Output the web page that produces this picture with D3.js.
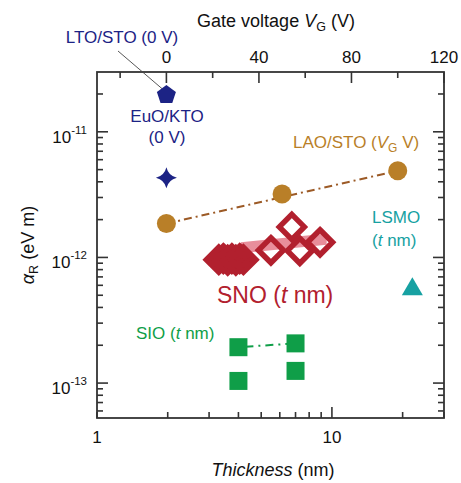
<!DOCTYPE html>
<html>
<head>
<meta charset="utf-8">
<script src="https://cdn.jsdelivr.net/npm/d3@7"></script>
<style>
  body { margin: 0; background: #fff; }
  text { font-family: "Liberation Sans", Arial, sans-serif; }
</style>
</head>
<body>
<div id="chart"></div>
<script>
// ---- data ----
// points plotted against gate voltage (top axis)
const ltoV = [0]
const ltoA = [2.0e-11]
const euoV = [0]
const euoA = [4.3e-12]
const laoV = [0, 50, 100]
const laoA = [1.86e-12, 3.2e-12, 4.9e-12]

// points plotted against thickness (bottom axis)
const snoT = [3.3, 3.45, 3.6, 3.75, 3.9, 4.05, 4.2, 5.5, 6.75, 7.3, 8.9]
const snoA = [0.96e-12, 0.98e-12, 0.95e-12, 0.98e-12, 0.95e-12, 0.98e-12, 0.96e-12, 1.14e-12, 1.75e-12, 1.13e-12, 1.32e-12]
const snoBandT = [4.1, 9.5]
const snoBandLo = [1.08e-12, 1.26e-12]
const snoBandHi = [1.32e-12, 1.55e-12]
const sioT = [4, 4, 7, 7]
const sioA = [1.93e-13, 1.04e-13, 2.07e-13, 1.25e-13]
const lsmoT = [22]
const lsmoA = [5.8e-13]

// tick labels
const xTickLabels = [1, 10]
const gateTickLabels = [0, 40, 80, 120]
const gateMinor = [-20, 20, 60, 100]
const yTickExp = [-11, -12, -13]

const width = 461
const height = 483
const box = { left: 97, right: 444, top: 72, bottom: 418 }

const svg = d3
  .select("#chart")
  .append("svg")
  .attr("width", width)
  .attr("height", height)

const x = d3.scaleLog().domain([1, 30]).range([box.left, box.right])
const xg = d3.scaleLinear().domain([-30, 120]).range([box.left, box.right])
const y = d3
  .scaleLog()
  .domain([Math.pow(10, -13.278), Math.pow(10, -10.524)])
  .range([box.bottom, box.top])

const navy = "#1c2385"
const brown = "#b97f28"
const red = "#b2202e"
const teal = "#17a1a2"
const green = "#0f9e48"
const axisCol = "#333"

// ---- frame ----
svg
  .append("rect")
  .attr("x", box.left)
  .attr("y", box.top)
  .attr("width", box.right - box.left)
  .attr("height", box.bottom - box.top)
  .attr("fill", "none")
  .attr("stroke", axisCol)
  .attr("stroke-width", 1.8)

const ticks = svg.append("g").attr("stroke", axisCol).attr("stroke-width", 1.6)

// y ticks on both sides, inward
y.ticks().forEach((v) => {
  const major = Math.abs(Math.log10(v) - Math.round(Math.log10(v))) < 1e-6
  const len = major ? 11 : 6
  ticks.append("line").attr("x1", box.left).attr("x2", box.left + len).attr("y1", y(v)).attr("y2", y(v))
  ticks.append("line").attr("x1", box.right).attr("x2", box.right - len).attr("y1", y(v)).attr("y2", y(v))
})

// bottom ticks (thickness), inward
x.ticks().forEach((v) => {
  const len = v === 10 ? 11 : 6
  ticks.append("line").attr("x1", x(v)).attr("x2", x(v)).attr("y1", box.bottom).attr("y2", box.bottom - len)
})

// top ticks (gate voltage), inward
gateTickLabels.concat(gateMinor).forEach((v) => {
  const len = gateTickLabels.includes(v) ? 11 : 6
  ticks.append("line").attr("x1", xg(v)).attr("x2", xg(v)).attr("y1", box.top).attr("y2", box.top + len)
})

// ---- tick labels ----
yTickExp.forEach((e) => {
  const t = svg
    .append("text")
    .attr("x", box.left - 10)
    .attr("y", y(Math.pow(10, e)) + 11)
    .attr("text-anchor", "end")
    .attr("font-size", 17)
    .attr("fill", "#111")
  t.append("tspan").text("10")
  t.append("tspan").attr("dy", -9).attr("font-size", 11.5).text("-" + Math.abs(e))
})

xTickLabels.forEach((v) => {
  svg
    .append("text")
    .attr("x", x(v))
    .attr("y", box.bottom + 25)
    .attr("text-anchor", "middle")
    .attr("font-size", 17)
    .attr("fill", "#111")
    .text(v)
})

gateTickLabels.forEach((v) => {
  svg
    .append("text")
    .attr("x", xg(v))
    .attr("y", box.top - 9)
    .attr("text-anchor", "middle")
    .attr("font-size", 17)
    .attr("fill", "#111")
    .text(v)
})

// ---- axis titles ----
const gTitle = svg
  .append("text")
  .attr("x", 276)
  .attr("y", 27)
  .attr("text-anchor", "middle")
  .attr("font-size", 18)
  .attr("fill", "#111")
gTitle.append("tspan").text("Gate voltage ")
gTitle.append("tspan").attr("font-style", "italic").text("V")
gTitle.append("tspan").attr("dy", 4).attr("font-size", 12.5).text("G")
gTitle.append("tspan").attr("dy", -4).text(" (V)")

const xTitle = svg
  .append("text")
  .attr("x", 273)
  .attr("y", 476)
  .attr("text-anchor", "middle")
  .attr("font-size", 18)
  .attr("fill", "#111")
xTitle.append("tspan").attr("font-style", "italic").text("Thickness")
xTitle.append("tspan").text(" (nm)")

const yTitle = svg
  .append("text")
  .attr("transform", "translate(34,245) rotate(-90)")
  .attr("text-anchor", "middle")
  .attr("font-size", 18)
  .attr("fill", "#111")
yTitle.append("tspan").attr("font-style", "italic").text("\u03b1")
yTitle.append("tspan").attr("dy", 4).attr("font-size", 12.5).text("R")
yTitle.append("tspan").attr("dy", -4).text(" (eV m)")

// ---- LAO/STO (gate voltage) ----
const laoPts = laoV.map((v, i) => [xg(v), y(laoA[i])])
svg
  .append("path")
  .attr("d", d3.line()([laoPts[0], laoPts[laoPts.length - 1]]))
  .attr("fill", "none")
  .attr("stroke", "#9c5a26")
  .attr("stroke-width", 2)
  .attr("stroke-dasharray", "8,4,2,4")

svg
  .selectAll("circle.lao")
  .data(laoPts)
  .enter()
  .append("circle")
  .attr("class", "lao")
  .attr("cx", (d) => d[0])
  .attr("cy", (d) => d[1])
  .attr("r", 9.5)
  .attr("fill", brown)

// ---- SNO band + diamonds ----
const band = snoBandT
  .map((t, i) => [x(t), y(snoBandHi[i])])
  .concat(snoBandT.map((t, i) => [x(t), y(snoBandLo[i])]).reverse())
svg
  .append("path")
  .attr("d", d3.line()(band) + "Z")
  .attr("fill", "#e0687a")
  .attr("fill-opacity", 0.75)

const dh = 12.5
svg
  .selectAll("path.sno")
  .data(snoT.map((t, i) => [x(t), y(snoA[i])]))
  .enter()
  .append("path")
  .attr("class", "sno")
  .attr("d", `M0,${-dh}L${dh},0L0,${dh}L${-dh},0Z`)
  .attr("transform", (d) => `translate(${d[0]},${d[1]})`)
  .attr("fill", "none")
  .attr("stroke", red)
  .attr("stroke-width", 5.5)

// ---- SIO ----
const sioPts = sioT.map((t, i) => [x(t), y(sioA[i])])
svg
  .append("path")
  .attr("d", d3.line()([sioPts[0], sioPts[2]]))
  .attr("fill", "none")
  .attr("stroke", green)
  .attr("stroke-width", 2)
  .attr("stroke-dasharray", "2,5,8,5")
svg
  .selectAll("rect.sio")
  .data(sioPts)
  .enter()
  .append("rect")
  .attr("class", "sio")
  .attr("x", (d) => d[0] - 9)
  .attr("y", (d) => d[1] - 9)
  .attr("width", 18)
  .attr("height", 18)
  .attr("fill", green)

// ---- LSMO ----
svg
  .selectAll("path.lsmo")
  .data(lsmoT.map((t, i) => [x(t), y(lsmoA[i])]))
  .enter()
  .append("path")
  .attr("class", "lsmo")
  .attr("d", "M0,-10L10.5,8L-10.5,8Z")
  .attr("transform", (d) => `translate(${d[0]},${d[1]})`)
  .attr("fill", teal)

// ---- EuO/KTO star ----
const star = "M0,-10.5Q2,-2 10.5,0Q2,2 0,10.5Q-2,2 -10.5,0Q-2,-2 0,-10.5Z"
svg
  .selectAll("path.euo")
  .data(euoV.map((v, i) => [xg(v), y(euoA[i])]))
  .enter()
  .append("path")
  .attr("class", "euo")
  .attr("d", star)
  .attr("transform", (d) => `translate(${d[0]},${d[1]})`)
  .attr("fill", navy)

// ---- LTO/STO pentagon ----
const pent = d3.range(5).map((i) => {
  const a = -Math.PI / 2 + (i * 2 * Math.PI) / 5
  return [10 * Math.cos(a), 10 * Math.sin(a) + 1]
})
const ltoPts = ltoV.map((v, i) => [xg(v), y(ltoA[i])])
svg
  .append("line")
  .attr("x1", 118)
  .attr("y1", 51)
  .attr("x2", ltoPts[0][0] - 4)
  .attr("y2", ltoPts[0][1] - 5)
  .attr("stroke", "#444")
  .attr("stroke-width", 0.9)
svg
  .selectAll("path.lto")
  .data(ltoPts)
  .enter()
  .append("path")
  .attr("class", "lto")
  .attr("d", d3.line()(pent) + "Z")
  .attr("transform", (d) => `translate(${d[0]},${d[1]})`)
  .attr("fill", navy)

// ---- annotations ----
function label(xp, yp, parts, color, size, anchor) {
  const t = svg
    .append("text")
    .attr("x", xp)
    .attr("y", yp)
    .attr("text-anchor", anchor || "start")
    .attr("font-size", size)
    .attr("fill", color)
  parts.forEach((p) => {
    const s = t.append("tspan").text(p.t)
    if (p.i) s.attr("font-style", "italic")
    if (p.dy) s.attr("dy", p.dy)
    if (p.fs) s.attr("font-size", p.fs)
  })
}

label(122, 43, [{ t: "LTO/STO (0 V)" }], navy, 17, "middle")
label(167, 122, [{ t: "EuO/KTO" }], navy, 17, "middle")
label(167, 143, [{ t: "(0 V)" }], navy, 17, "middle")
label(293, 148, [{ t: "LAO/STO (" }, { t: "V", i: true }, { t: "G", dy: 4, fs: 12 }, { t: " V)", dy: -4 }], brown, 17)
label(372, 223, [{ t: "LSMO" }], teal, 17)
label(372, 246, [{ t: "(" }, { t: "t", i: true }, { t: " nm)" }], teal, 17)
label(217, 303, [{ t: "SNO (" }, { t: "t", i: true }, { t: " nm)" }], red, 23)
label(136, 339, [{ t: "SIO (" }, { t: "t", i: true }, { t: " nm)" }], green, 17)
</script>
</body>
</html>
